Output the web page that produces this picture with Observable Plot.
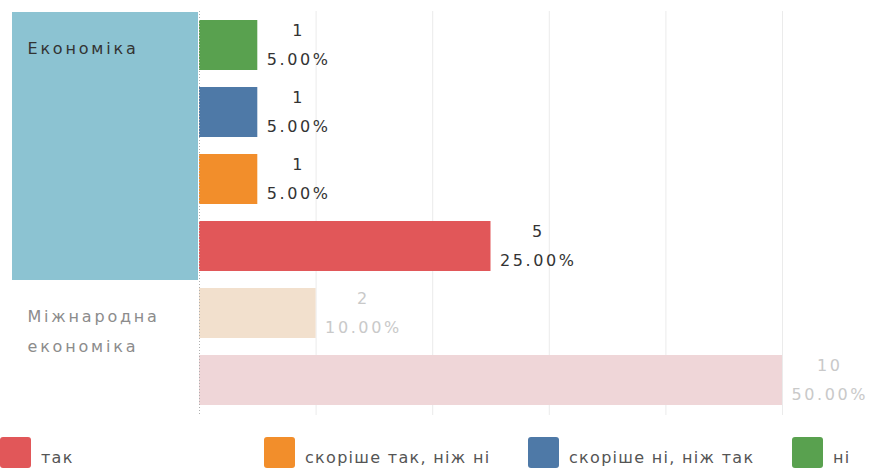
<!DOCTYPE html>
<html>
<head>
<meta charset="utf-8">
<script src="https://cdn.jsdelivr.net/npm/d3@7"></script>
<script src="https://cdn.jsdelivr.net/npm/@observablehq/plot@0.6"></script>
<style>
  html, body { margin: 0; padding: 0; background: #fff; }
  body { width: 892px; height: 469px; overflow: hidden; font-family: "DejaVu Sans", sans-serif; }
  #chart { display: flex; width: 892px; height: 425px; }
  #left text { letter-spacing: 2.8px; }
  #right text { letter-spacing: 2.6px; }
  #legend { position: relative; height: 44px; padding-top: 12px; box-sizing: border-box;
            display: grid; grid-template-columns: 264px 264px 264px 100px; }
  .item { display: flex; align-items: flex-end; height: 31px; }
  .sw { width: 31px; height: 31px; border-radius: 3px; flex: none; }
  .lab { margin-left: 10px; font-size: 16px; line-height: 16px; padding-bottom: 2px;
         color: #555; letter-spacing: 1.3px; white-space: nowrap; }
</style>
</head>
<body>
<div id="chart"><div id="left"></div><div id="right"></div></div>
<div id="legend"></div>
<script>
// ---- data ----
const categories = ["Економіка", "Міжнародна економіка"];
const selectedCategory = "Економіка";
const responses = ["так", "скоріше так, ніж ні", "скоріше ні, ніж так", "ні"];
const responseColors = ["#e15759", "#f28e2b", "#4e79a7", "#59a14f"];
const fadedColors = ["#efd6d8", "#f2e0cd", "#d7dee8", "#dce9d8"];
const rowCategory = ["Економіка", "Економіка", "Економіка", "Економіка", "Міжнародна економіка", "Міжнародна економіка"];
const rowResponse = ["ні", "скоріше ні, ніж так", "скоріше так, ніж ні", "так", "скоріше так, ніж ні", "так"];
const rowCount = [1, 1, 1, 5, 2, 10];
const rowPercent = ["5.00%", "5.00%", "5.00%", "25.00%", "10.00%", "50.00%"];
const gridTicks = [2, 4, 6, 8, 10];

// ---- build table ----
const rows = rowCategory.map((c, i) => ({
  key: c + "|" + rowResponse[i],
  category: c,
  response: rowResponse[i],
  count: rowCount[i],
  percent: rowPercent[i],
  selected: c === selectedCategory
}));
const rowKeys = rows.map(d => d.key);
const colorOf = d => {
  const j = responses.indexOf(d.response);
  return d.selected ? responseColors[j] : fadedColors[j];
};
const firstRows = categories.map(c => rows.find(r => r.category === c));

const H = 425, MT = 11, MB = 10;

// ---- left header pane ----
const left = Plot.plot({
  width: 198, height: H,
  marginLeft: 12, marginRight: 0, marginTop: MT, marginBottom: MB,
  y: {domain: rowKeys, axis: null, padding: 0},
  color: {type: "identity"},
  style: {fontFamily: "DejaVu Sans", background: "transparent"},
  marks: [
    Plot.cell(rows.filter(d => d.selected), {y: "key", fill: "#8cc3d2", inset: 0}),
    Plot.text(firstRows, {
      y: "key", frameAnchor: "left", dx: 15, dy: -13,
      text: d => d.category.replace(" ", "\n"),
      textAnchor: "start", lineAnchor: "top", lineHeight: 1.875,
      fontSize: 16, fill: d => d.selected ? "#333333" : "#8c8c8c"
    })
  ]
});
document.getElementById("left").append(left);

// ---- right bars pane ----
const right = Plot.plot({
  width: 694, height: H,
  marginLeft: 1, marginRight: 110, marginTop: MT, marginBottom: MB,
  x: {domain: [0, 10], axis: null},
  y: {domain: rowKeys, axis: null, paddingInner: 0.25, paddingOuter: 0.125},
  color: {type: "identity"},
  style: {fontFamily: "DejaVu Sans", background: "transparent", overflow: "visible"},
  marks: [
    Plot.ruleX(gridTicks, {stroke: "#ebebeb", strokeWidth: 1}),
    Plot.barX(rows, {x: "count", y: "key", fill: colorOf}),
    Plot.ruleX([0], {stroke: "#b0b0b0", strokeDasharray: "1,2"}),
    Plot.text(rows, {
      x: "count", y: "key", dy: -4,
      text: d => `${d.count}\n${d.percent}`,
      textAnchor: "middle", lineAnchor: "middle", lineHeight: 1.8,
      fontSize: 16, fill: d => d.selected ? "#333333" : "#c9c9c9"
    })
  ]
});
document.getElementById("right").append(right);

// place each label block just right of its bar, lines centred on each other
right.querySelectorAll('g[aria-label="text"] > text').forEach(el => {
  const w = el.getBBox().width;
  const t = el.getAttribute("transform") || "";
  el.setAttribute("transform", `${t} translate(${w / 2 + 9},0)`);
});

// ---- legend ----
const legend = document.getElementById("legend");
responses.forEach((r, j) => {
  const item = document.createElement("div");
  item.className = "item";
  const sw = document.createElement("div");
  sw.className = "sw";
  sw.style.background = responseColors[j];
  const lab = document.createElement("span");
  lab.className = "lab";
  lab.textContent = r;
  item.append(sw, lab);
  legend.append(item);
});
</script>
</body>
</html>
